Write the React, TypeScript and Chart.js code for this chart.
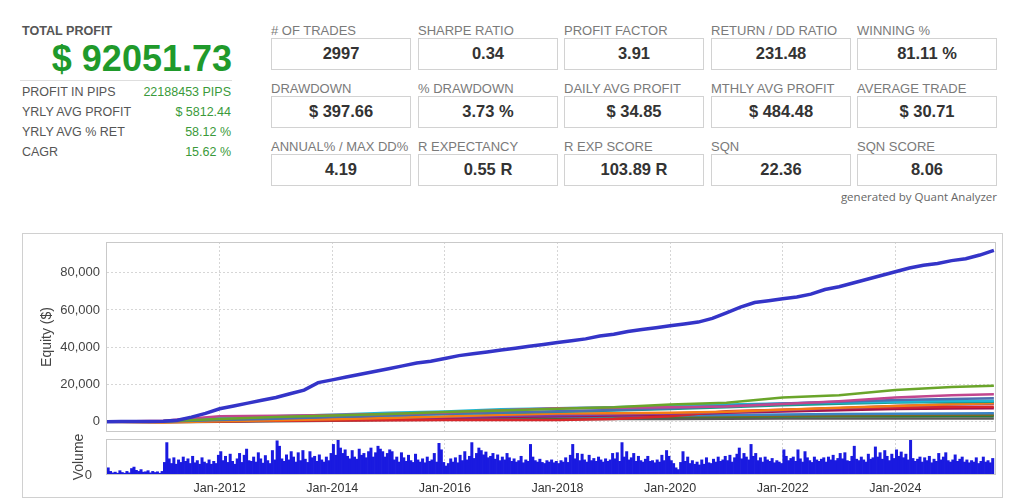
import React, { useEffect, useRef } from "react";
import { Chart, registerables } from "chart.js";
Chart.register(...registerables);

const FONT = '"Liberation Sans", Arial, sans-serif';

// ---------- header stats ----------
const TOTAL_PROFIT = "$ 92051.73";
const SUMMARY_LABELS = ["PROFIT IN PIPS", "YRLY AVG PROFIT", "YRLY AVG % RET", "CAGR"];
const SUMMARY_VALUES = ["22188453 PIPS", "$ 5812.44", "58.12 %", "15.62 %"];
const STAT_LABELS = [
  "# OF TRADES", "SHARPE RATIO", "PROFIT FACTOR", "RETURN / DD RATIO", "WINNING %",
  "DRAWDOWN", "% DRAWDOWN", "DAILY AVG PROFIT", "MTHLY AVG PROFIT", "AVERAGE TRADE",
  "ANNUAL% / MAX DD%", "R EXPECTANCY", "R EXP SCORE", "SQN", "SQN SCORE",
];
const STAT_VALUES = [
  "2997", "0.34", "3.91", "231.48", "81.11 %",
  "$ 397.66", "3.73 %", "$ 34.85", "$ 484.48", "$ 30.71",
  "4.19", "0.55 R", "103.89 R", "22.36", "8.06",
];

// ---------- chart axes ----------
const X_MIN = 2010.0;
const X_MAX = 2025.77;
const YEAR_TICKS = [2012, 2014, 2016, 2018, 2020, 2022, 2024];
const EQUITY_TICKS = [0, 20000, 40000, 60000, 80000];
const VOLUME_TICKS = [0];

// ---------- portfolio equity (quarterly from Jan-2010) ----------
const PORTFOLIO_START = 2010.0;
const PORTFOLIO_STEP = 0.25;
const PORTFOLIO_EQUITY = [
  0, 100, 200, 200,
  300, 800, 2500, 4500,
  7000, 8500, 10000, 11500,
  13000, 15000, 17000, 21000,
  22500, 24000, 25500, 27000,
  28500, 30000, 31500, 32500,
  34000, 35500, 36500, 37500,
  38500, 39500, 40500, 41500,
  42500, 43500, 44500, 46000,
  47000, 48500, 49500, 50500,
  51500, 52500, 53500, 55500,
  58500, 61500, 64000, 65000,
  66000, 67000, 68500, 71000,
  72500, 74500, 76500, 78500,
  80500, 82500, 84000, 85000,
  86500, 87500, 89500, 92051.73,
];

// ---------- individual strategies (yearly) ----------
const STRAT_YEARS = [2010, 2011, 2012, 2013, 2014, 2015, 2016, 2017, 2018, 2019, 2020, 2021, 2022, 2023, 2024, 2025, 2025.75];
const S_GREEN = [0, 300, 1500, 2500, 3300, 4200, 5200, 6000, 7000, 7800, 9300, 10200, 13000, 14200, 17000, 18600, 19300];
const S_CYAN = [0, 400, 2000, 2900, 3800, 4800, 5500, 6700, 7300, 7800, 8600, 9300, 9800, 10300, 10800, 11100, 11300];
const S_MAGENTA = [0, 600, 2900, 3200, 3600, 4200, 5000, 6200, 7200, 7500, 7800, 8200, 9500, 11000, 13000, 14200, 14700];
const S_STEEL = [0, 100, 900, 1600, 2600, 3400, 4300, 5000, 5700, 6300, 7200, 8500, 9800, 10800, 11700, 12200, 12600];
const S_ORANGE = [0, -400, 300, 800, 1300, 2000, 2800, 3800, 4400, 4600, 4800, 5400, 6500, 7500, 8500, 9400, 9900];
const S_RED = [0, 0, 300, 500, 700, 800, 900, 900, 1000, 1500, 3000, 5600, 6500, 7200, 7600, 7900, 8000];
const S_CRIMSON = [0, 0, 300, 700, 1200, 1700, 2200, 2600, 3000, 3300, 3800, 4800, 5500, 6200, 6800, 7100, 7200];
const S_LIGHTBLUE = [0, 100, 500, 900, 1300, 1700, 2000, 2400, 2700, 3000, 3300, 3600, 3900, 4100, 4300, 4400, 4500];
const S_DARKGREEN = [0, 200, 600, 900, 1200, 1500, 1700, 1900, 2100, 2300, 2500, 2700, 2800, 2900, 3000, 3050, 3100];
const S_DARKGRAY = [0, -300, 0, 300, 600, 900, 1100, 1300, 1400, 1500, 1500, 1600, 1700, 1700, 1800, 1800, 1800];
const S_OLIVE = [0, 0, 500, 900, 1300, 1700, 2100, 2500, 2700, 2800, 2900, 3000, 3200, 3400, 3600, 3700, 3800];
const S_TEAL = [0, 300, 1200, 2000, 2800, 3500, 4200, 4800, 5400, 6000, 6800, 7800, 8800, 9700, 10300, 10600, 10800];
const S_PURPLE = [0, 100, 600, 1100, 1600, 2100, 2600, 3100, 3500, 3900, 4400, 5200, 6200, 7300, 8400, 9200, 9600];

const STRATEGIES = [S_GREEN, S_MAGENTA, S_STEEL, S_CYAN, S_TEAL, S_ORANGE, S_PURPLE, S_RED, S_CRIMSON, S_LIGHTBLUE, S_OLIVE, S_DARKGREEN, S_DARKGRAY];
const STRATEGY_COLORS = ["#6aa52a", "#c2468e", "#4c6fb0", "#1fb7d4", "#1a9a8a", "#f57c14", "#7a40a8", "#d8262a", "#a3134e", "#3b82c4", "#7d6a1e", "#2a7a3a", "#5a5a5a"];

// ---------- volume (two bars per month) ----------
const VOL_YEARS = [2010, 2011, 2012, 2013, 2014, 2015, 2016, 2017, 2018, 2019, 2020, 2021, 2022, 2023, 2024, 2025];
const vol2010 = [2.0, 1.0, 0.6, 0.8, 0.5, 1.2, 0.7, 0.5, 1.0, 0.6, 1.8, 2.2, 1.3, 1.0, 1.5, 0.8, 0.9, 1.2, 0.6, 1.0, 0.7, 0.9, 0.5, 1.0];
const vol2011 = [3.5, 9.0, 4.5, 3.2, 4.8, 3.0, 4.2, 3.5, 5.0, 3.8, 4.5, 3.2, 5.2, 3.4, 4.0, 3.0, 4.8, 3.6, 3.2, 4.2, 3.0, 3.8, 3.2, 5.5];
const vol2012 = [6.5, 4.0, 5.2, 3.5, 5.8, 3.8, 3.0, 4.5, 6.0, 3.5, 5.5, 7.2, 4.0, 3.8, 5.0, 3.6, 6.2, 4.5, 3.3, 5.4, 4.0, 3.2, 6.8, 4.2];
const vol2013 = [9.5, 8.0, 4.5, 3.8, 5.6, 4.2, 6.5, 5.0, 3.6, 6.2, 4.0, 6.8, 4.4, 3.5, 6.5, 4.8, 5.2, 3.8, 5.6, 4.2, 3.6, 5.0, 4.0, 6.0];
const vol2014 = [8.5, 5.5, 10.0, 7.5, 6.0, 7.0, 5.2, 4.5, 6.8, 5.0, 4.4, 7.2, 5.5, 6.0, 4.8, 6.5, 7.5, 5.0, 6.2, 8.0, 7.2, 6.5, 5.0, 6.0];
const vol2015 = [7.0, 6.5, 4.2, 5.0, 3.6, 6.2, 4.8, 3.8, 5.5, 4.0, 3.5, 5.8, 4.2, 3.6, 4.5, 3.4, 5.0, 3.8, 4.2, 6.0, 3.6, 8.8, 7.0, 3.5];
const vol2016 = [2.5, 3.2, 4.5, 3.6, 4.8, 3.4, 5.5, 4.0, 6.5, 4.2, 5.2, 9.0, 4.6, 6.0, 7.5, 6.8, 5.6, 6.4, 4.8, 5.2, 6.0, 4.4, 5.6, 4.0];
const vol2017 = [5.0, 4.2, 6.0, 4.8, 3.8, 4.5, 3.6, 4.0, 5.2, 3.4, 4.2, 3.8, 8.5, 5.0, 4.0, 3.6, 4.4, 3.5, 3.2, 4.0, 3.6, 4.2, 3.4, 3.8];
const vol2018 = [3.2, 4.0, 3.6, 4.8, 3.5, 5.5, 8.5, 4.5, 6.0, 4.0, 5.8, 4.2, 3.6, 5.5, 4.0, 4.6, 3.8, 5.0, 4.2, 3.6, 4.5, 3.8, 4.2, 6.0];
const vol2019 = [4.5, 6.2, 3.8, 9.0, 5.0, 6.5, 4.2, 4.8, 6.0, 3.8, 5.2, 4.0, 3.6, 4.4, 5.2, 3.8, 4.0, 3.4, 4.2, 3.6, 5.5, 4.0, 6.8, 5.2];
const vol2020 = [4.0, 3.2, 2.0, 1.5, 3.5, 6.5, 3.8, 5.0, 3.2, 4.0, 3.0, 3.6, 2.8, 4.2, 3.0, 4.8, 3.4, 3.2, 4.4, 3.6, 5.0, 3.8, 4.2, 5.2];
const vol2021 = [4.0, 5.5, 3.6, 4.8, 5.8, 7.5, 4.5, 6.0, 5.0, 4.2, 8.5, 5.2, 6.0, 4.0, 4.8, 3.6, 5.0, 4.2, 3.8, 4.6, 3.4, 4.0, 3.6, 3.2];
const vol2022 = [7.0, 5.2, 4.0, 4.6, 5.0, 3.8, 7.0, 4.5, 3.6, 6.5, 4.8, 4.0, 3.5, 5.0, 4.2, 3.8, 4.4, 4.8, 3.6, 5.0, 4.2, 5.5, 4.0, 4.6];
const vol2023 = [6.0, 4.5, 6.2, 4.0, 3.8, 5.2, 8.0, 4.4, 4.0, 5.0, 4.2, 3.6, 5.8, 4.4, 4.8, 7.8, 5.0, 6.2, 4.4, 6.8, 5.2, 4.0, 5.8, 4.6];
const vol2024 = [7.0, 5.2, 6.4, 4.8, 5.8, 4.2, 10.0, 4.6, 3.8, 4.4, 5.0, 3.6, 4.8, 4.0, 5.2, 3.4, 4.4, 3.8, 6.0, 4.2, 5.0, 6.2, 4.0, 3.6];
const vol2025 = [4.2, 5.6, 3.8, 4.4, 5.0, 3.6, 4.2, 3.4, 4.0, 3.6, 4.8, 3.2, 3.8, 5.0, 3.6, 4.0, 3.4, 4.6];
const VOLUME = [vol2010, vol2011, vol2012, vol2013, vol2014, vol2015, vol2016, vol2017, vol2018, vol2019, vol2020, vol2021, vol2022, vol2023, vol2024, vol2025];

// ---------- helpers ----------
const framePlugin = {
  id: "frame",
  afterDraw(chart: any) {
    const { ctx, chartArea } = chart;
    const { left, top, right, bottom } = chartArea;
    ctx.save();
    ctx.strokeStyle = "#c9c9c9";
    ctx.lineWidth = 1;
    ctx.strokeRect(Math.round(left) - 0.5, Math.round(top) + 0.5, Math.round(right - left) + 1, Math.round(bottom - top) - 1);
    ctx.restore();
  },
};

const setTicks = (vals: number[]) => (scale: any) => {
  scale.ticks = vals.map((v) => ({ value: v }));
};

const noPad = (s: any) => {
  s.paddingTop = 0;
  s.paddingBottom = 0;
  s.paddingLeft = 0;
  s.paddingRight = 0;
};

function Txt(props: { x: number; base: number; size: number; text: string; align?: "left" | "right"; weight?: string | number; color: string; family?: string }) {
  const { x, base, size, text, align = "left", weight = "normal", color, family = FONT } = props;
  const top = base - 0.8465 * size;
  const style: React.CSSProperties = {
    position: "absolute",
    top,
    fontFamily: family,
    fontSize: size,
    lineHeight: `${size}px`,
    fontWeight: weight as any,
    color,
    whiteSpace: "nowrap",
  };
  if (align === "left") style.left = x;
  else style.right = 1024 - x;
  return <div style={style}>{text}</div>;
}

function EquityChart() {
  const ref = useRef<HTMLCanvasElement>(null);
  useEffect(() => {
    const datasets: any[] = [
      {
        data: PORTFOLIO_EQUITY.map((v, i) => ({ x: PORTFOLIO_START + i * PORTFOLIO_STEP, y: v })),
        borderColor: "#3434c8",
        borderWidth: 3.5,
      },
      ...STRATEGIES.map((s, k) => ({
        data: s.map((v, i) => ({ x: STRAT_YEARS[i], y: v })),
        borderColor: STRATEGY_COLORS[k],
        borderWidth: 2.5,
      })),
    ];
    const chart = new Chart(ref.current as HTMLCanvasElement, {
      type: "line",
      data: { datasets },
      options: {
        animation: false,
        responsive: true,
        maintainAspectRatio: false,
        layout: { padding: { top: 8, right: 7, bottom: 2, left: 0 } },
        plugins: { legend: { display: false }, tooltip: { enabled: false } },
        elements: { point: { radius: 0 }, line: { tension: 0, fill: false } },
        scales: {
          x: {
            type: "linear",
            min: X_MIN,
            max: X_MAX,
            afterBuildTicks: setTicks(YEAR_TICKS),
            ticks: { display: false },
            grid: { color: "#d6d6d6", drawTicks: false },
            border: { display: false, dash: [2, 2] },
            afterFit: (s: any) => { s.height = 0; noPad(s); },
          },
          y: {
            type: "linear",
            min: -5500,
            max: 96500,
            afterBuildTicks: setTicks(EQUITY_TICKS),
            ticks: {
              padding: 7,
              color: "#444",
              font: { family: FONT, size: 13 },
              callback: (v: any) => Number(v).toLocaleString("en-US"),
            },
            grid: { color: "#d6d6d6", drawTicks: false },
            border: { display: false, dash: [2, 2] },
            title: {
              display: true,
              text: "Equity ($)",
              color: "#444",
              font: { family: FONT, size: 14 },
              padding: { top: 16.6, bottom: 0 },
            },
            afterFit: (s: any) => { s.width = 85; noPad(s); },
          },
        },
      } as any,
      plugins: [framePlugin],
    });
    return () => chart.destroy();
  }, []);
  return (
    <div style={{ position: "absolute", left: 22, top: 234, width: 980, height: 200 }}>
      <canvas ref={ref} />
    </div>
  );
}

function VolumeChart() {
  const ref = useRef<HTMLCanvasElement>(null);
  useEffect(() => {
    const points = VOLUME.flatMap((arr, yi) => arr.map((v, i) => ({ x: VOL_YEARS[yi] + (i + 0.5) / 24, y: v })));
    const chart = new Chart(ref.current as HTMLCanvasElement, {
      type: "bar",
      data: {
        datasets: [
          {
            data: points,
            backgroundColor: "#1a1ae0",
            borderWidth: 0,
            barPercentage: 1,
            categoryPercentage: 1,
          },
        ],
      },
      options: {
        animation: false,
        responsive: true,
        maintainAspectRatio: false,
        layout: { padding: { top: 5, right: 7, bottom: 2, left: 0 } },
        plugins: { legend: { display: false }, tooltip: { enabled: false } },
        scales: {
          x: {
            type: "linear",
            min: X_MIN,
            max: X_MAX,
            offset: false,
            afterBuildTicks: setTicks(YEAR_TICKS),
            ticks: {
              padding: 6,
              color: "#333",
              font: { family: FONT, size: 12.5 },
              maxRotation: 0,
              autoSkip: false,
              callback: (v: any) => "Jan-" + v,
            },
            grid: { color: "#d6d6d6", drawTicks: false, offset: false },
            border: { display: false, dash: [2, 2] },
            afterFit: (s: any) => { s.height = 21; noPad(s); },
          },
          y: {
            type: "linear",
            min: 0,
            max: 10,
            afterBuildTicks: setTicks(VOLUME_TICKS),
            ticks: { padding: 7, color: "#444", font: { family: FONT, size: 13 } },
            grid: { display: false },
            border: { display: false },
            title: {
              display: true,
              text: "Volume",
              color: "#444",
              font: { family: FONT, size: 14 },
              padding: { top: 48.6, bottom: 0 },
            },
            afterFit: (s: any) => { s.width = 85; noPad(s); },
          },
        },
      } as any,
      plugins: [framePlugin],
    });
    return () => chart.destroy();
  }, []);
  return (
    <div style={{ position: "absolute", left: 22, top: 434, width: 980, height: 64 }}>
      <canvas ref={ref} />
    </div>
  );
}

const COL_X = [271, 418, 564, 711, 857];
const ROW_Y = [38, 96, 154];
const BOX_W = 140;
const BOX_H = 32;

export default function App() {
  return (
    <div style={{ position: "absolute", left: 0, top: 0, width: 1024, height: 502, background: "#fff", overflow: "hidden" }}>
      {/* left summary */}
      <Txt x={22} base={35.5} size={12.6} text="TOTAL PROFIT" weight="bold" color="#555" />
      <Txt x={232} base={71.7} size={36} text={TOTAL_PROFIT} weight="bold" color="#1f9a2b" align="right" />
      <div style={{ position: "absolute", left: 20, top: 80, width: 212, height: 1, background: "#dedede" }} />
      {SUMMARY_LABELS.map((l, i) => (
        <Txt key={"sl" + i} x={22} base={96.7 + i * 19.9} size={12.5} text={l} color="#555" />
      ))}
      {SUMMARY_VALUES.map((v, i) => (
        <Txt key={"sv" + i} x={231} base={96.7 + i * 19.9} size={12.5} text={v} color="#3a9a3a" align="right" />
      ))}

      {/* stats grid */}
      {STAT_LABELS.map((l, i) => {
        const c = i % 5;
        const r = Math.floor(i / 5);
        return (
          <React.Fragment key={"st" + i}>
            <Txt x={COL_X[c]} base={ROW_Y[r] - 3} size={13} text={l} color="#7a7a7a" />
            <div
              style={{
                position: "absolute",
                left: COL_X[c],
                top: ROW_Y[r],
                width: BOX_W,
                height: BOX_H,
                boxSizing: "border-box",
                border: "1px solid #d2d2d2",
                background: "#fff",
              }}
            />
            <div
              style={{
                position: "absolute",
                left: COL_X[c],
                width: BOX_W,
                top: ROW_Y[r] + 21.3 - 0.8465 * 16.5,
                fontFamily: FONT,
                fontSize: 16.5,
                lineHeight: "16.5px",
                fontWeight: "bold",
                color: "#333",
                textAlign: "center",
                whiteSpace: "nowrap",
              }}
            >
              {STAT_VALUES[i]}
            </div>
          </React.Fragment>
        );
      })}
      <Txt x={997} base={201} size={11.5} text="generated by Quant Analyzer" color="#666" align="right" family='"Open Sans", sans-serif' />

      {/* chart frame */}
      <div style={{ position: "absolute", left: 22, top: 233, width: 981, height: 265, boxSizing: "border-box", border: "1px solid #d0d0d0" }} />
      <EquityChart />
      <VolumeChart />
    </div>
  );
}
